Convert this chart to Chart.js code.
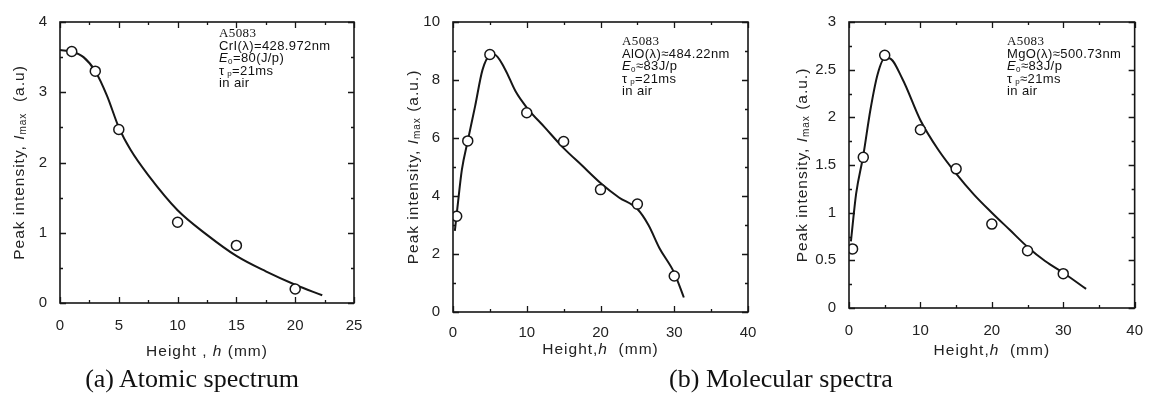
<!DOCTYPE html>
<html>
<head>
<meta charset="utf-8">
<script src="https://cdn.jsdelivr.net/npm/chart.js@4.4.1/dist/chart.umd.min.js"></script>
<style>
  body { margin: 0; background: #fff; width: 1157px; height: 396px; position: relative; overflow: hidden; }
  canvas { position: absolute; top: 0; }
  .cap { position: absolute; top: 366px; line-height: 26px; font-family: "Liberation Serif", "Times New Roman", serif; font-size: 26px; color: #111; white-space: nowrap; transform: translateX(-50%); }
</style>
</head>
<body>
<canvas id="chartA" width="390" height="365" style="left:0"></canvas>
<canvas id="chartB" width="390" height="365" style="left:390px"></canvas>
<canvas id="chartC" width="387" height="365" style="left:770px"></canvas>
<div class="cap" style="left:192px">(a) Atomic spectrum</div>
<div class="cap" style="left:781px">(b) Molecular spectra</div>
<script>
// (a) CrI atomic line
const aHeight = [1, 3, 5, 10, 15, 20];
const aPeak = [3.58, 3.3, 2.47, 1.15, 0.82, 0.2];
const aFitH = [0, 1, 2, 3, 4, 5, 6, 7.5, 10, 12.5, 15, 17.5, 20, 22.3];
const aFitI = [3.6, 3.58, 3.5, 3.3, 2.95, 2.5, 2.18, 1.82, 1.32, 0.97, 0.67, 0.45, 0.26, 0.11];

// (b) AlO band
const bHeight = [0.5, 2, 5, 10, 15, 20, 25, 30];
const bPeak = [3.3, 5.9, 8.88, 6.87, 5.88, 4.22, 3.72, 1.24];
const bFitH = [0.25, 0.6, 1.2, 2, 3, 4, 5, 5.6, 7, 8.5, 10, 12.5, 15, 17.5, 20, 22.5, 25, 26.5, 28, 30, 31.3];
const bFitI = [2.8, 3.6, 4.9, 5.9, 7.1, 8.35, 8.85, 8.88, 8.4, 7.6, 7.05, 6.35, 5.65, 5.05, 4.45, 3.95, 3.55, 3.0, 2.2, 1.35, 0.5];

// (c) MgO band
const cHeight = [0.5, 2, 5, 10, 15, 20, 25, 30];
const cPeak = [0.62, 1.58, 2.65, 1.87, 1.46, 0.88, 0.6, 0.36];
const cFitH = [0.27, 1, 2, 3, 4, 5, 5.6, 7.5, 10, 12.5, 15, 17.5, 20, 22.5, 25, 27.5, 30, 33.2];
const cFitI = [0.7, 1.2, 1.6, 2.08, 2.45, 2.62, 2.62, 2.4, 1.97, 1.66, 1.41, 1.19, 1.0, 0.82, 0.64, 0.49, 0.37, 0.2];

// in-plot notes, one line per entry: [text, style] pieces
const aNotes = [
  [["A5083", "serif"]],
  [["CrI(λ)=428.972nm", ""]],
  [["E", "i"], ["0", "sub"], ["=80(J/p)", ""]],
  [["τ", ""], [" p", "sub"], ["=21ms", ""]],
  [["in air", ""]]
];
const bNotes = [
  [["A5083", "serif"]],
  [["AlO(λ)≈484.22nm", ""]],
  [["E", "i"], ["0", "sub"], ["≈83J/p", ""]],
  [["τ", ""], [" p", "sub"], ["=21ms", ""]],
  [["in air", ""]]
];
const cNotes = [
  [["A5083", "serif"]],
  [["MgO(λ)≈500.73nm", ""]],
  [["E", "i"], ["0", "sub"], ["≈83J/p", ""]],
  [["τ", ""], [" p", "sub"], ["≈21ms", ""]],
  [["in air", ""]]
];

const sans = '"Liberation Sans", Arial, sans-serif';
const ink = '#161616';

function pieceFont(style, size) {
  if (style === 'sub') return `${Math.round(size * 0.62)}px ${sans}`;
  if (style === 'i') return `italic ${size}px ${sans}`;
  if (style === 'serif') return `${size}px "Liberation Serif", serif`;
  return `${size}px ${sans}`;
}

function drawRich(ctx, pieces, x, y, size, centre, spacing) {
  ctx.letterSpacing = spacing + 'px';
  let w = 0;
  pieces.forEach(([t, s]) => { ctx.font = pieceFont(s, size); w += ctx.measureText(t).width; });
  let cx = centre ? x - w / 2 : x;
  pieces.forEach(([t, s]) => {
    ctx.font = pieceFont(s, size);
    ctx.fillText(t, cx, s === 'sub' ? y + size * 0.2 : y);
    cx += ctx.measureText(t).width;
  });
  ctx.letterSpacing = '0px';
}

const extras = {
  id: 'extras',
  afterDraw(chart, args, o) {
    const { ctx, chartArea: a, scales: { x, y } } = chart;
    ctx.save();
    ctx.strokeStyle = ink;
    ctx.lineWidth = 1.6;
    ctx.strokeRect(a.left, a.top, a.right - a.left, a.bottom - a.top);

    // inward ticks on all four sides
    ctx.lineWidth = 1.3;
    const isMajor = (v, step) => Math.abs(v / step - Math.round(v / step)) < 1e-6;
    for (let v = x.min; v <= x.max + 1e-9; v += o.xMinor) {
      const px = Math.round(x.getPixelForValue(v)) + 0.5;
      const len = isMajor(v, o.xMajor) ? 6 : 3;
      ctx.beginPath();
      ctx.moveTo(px, a.bottom); ctx.lineTo(px, a.bottom - len);
      ctx.moveTo(px, a.top); ctx.lineTo(px, a.top + len);
      ctx.stroke();
    }
    for (let v = y.min; v <= y.max + 1e-9; v += o.yMinor) {
      const py = Math.round(y.getPixelForValue(v)) + 0.5;
      const len = isMajor(v, o.yMajor) ? 6 : 3;
      ctx.beginPath();
      ctx.moveTo(a.left, py); ctx.lineTo(a.left + len, py);
      ctx.moveTo(a.right, py); ctx.lineTo(a.right - len, py);
      ctx.stroke();
    }

    // axis titles
    ctx.fillStyle = '#222';
    ctx.textBaseline = 'middle';
    drawRich(ctx, o.xTitle, (a.left + a.right) / 2, o.xTitleY, 15.5, true, 1);
    ctx.save();
    ctx.translate(a.left - o.yTitleGap, (a.top + a.bottom) / 2);
    ctx.rotate(-Math.PI / 2);
    drawRich(ctx, o.yTitle, 0, 0, 15.5, true, 1);
    ctx.restore();

    // notes
    ctx.fillStyle = '#111';
    o.notes.forEach((line, i) => drawRich(ctx, line, o.noteX, o.noteY + i * 12.4, 13, false, 0.4));
    ctx.restore();
  }
};

function pairs(xs, ys) { return xs.map((v, i) => ({ x: v, y: ys[i] })); }

function makeChart(id, c) {
  return new Chart(id, {
    type: 'scatter',
    data: {
      datasets: [
        { data: pairs(c.h, c.i), showLine: false, pointRadius: 5, pointBorderWidth: 1.5,
          pointBackgroundColor: '#fff', pointBorderColor: ink },
        { data: pairs(c.fitH, c.fitI), showLine: true, borderColor: ink, borderWidth: 2,
          pointRadius: 0, cubicInterpolationMode: 'monotone', fill: false }
      ]
    },
    options: {
      responsive: false,
      animation: false,
      layout: { padding: c.pad },
      plugins: {
        legend: { display: false },
        tooltip: { enabled: false },
        extras: c.extras
      },
      scales: {
        x: {
          type: 'linear', min: 0, max: c.xMax,
          ticks: { stepSize: c.xStep, padding: c.xPad, color: '#222', font: { family: sans, size: 15 }, maxRotation: 0, autoSkip: false },
          grid: { display: false, drawTicks: false }, border: { display: false },
          afterFit: s => { s.height = 40; }
        },
        y: {
          type: 'linear', min: 0, max: c.yMax,
          ticks: { stepSize: c.yStep, padding: 13, color: '#222', font: { family: sans, size: 15 }, callback: v => String(v) },
          grid: { display: false, drawTicks: false }, border: { display: false },
          afterFit: s => { s.width = c.pad.left0; }
        }
      }
    },
    plugins: [extras]
  });
}

makeChart('chartA', {
  h: aHeight, i: aPeak, fitH: aFitH, fitI: aFitI,
  xMax: 25, xStep: 5, yMax: 4, yStep: 1, xPad: 14,
  pad: { left: 0, top: 14, right: 36, bottom: 22, left0: 60 },
  extras: { xMinor: 2.5, xMajor: 5, yMinor: 0.5, yMajor: 1,
    xTitle: [["Height , ", ""], ["h", "i"], [" (mm)", ""]], xTitleY: 352,
    yTitle: [["Peak intensity, ", ""], ["I", "i"], ["max", "sub"], ["  (a.u)", ""]], yTitleGap: 40,
    notes: aNotes, noteX: 219, noteY: 34 }
});

makeChart('chartB', {
  h: bHeight, i: bPeak, fitH: bFitH, fitI: bFitI,
  xMax: 40, xStep: 10, yMax: 10, yStep: 2, xPad: 12,
  pad: { left: 0, top: 18, right: 32, bottom: 13, left0: 63 },
  extras: { xMinor: 5, xMajor: 10, yMinor: 1, yMajor: 2,
    xTitle: [["Height,", ""], ["h", "i"], ["  (mm)", ""]], xTitleY: 350,
    yTitle: [["Peak intensity, ", ""], ["I", "i"], ["max", "sub"], [" (a.u.)", ""]], yTitleGap: 39,
    notes: bNotes, noteX: 232, noteY: 42 }
});

makeChart('chartC', {
  h: cHeight, i: cPeak, fitH: cFitH, fitI: cFitI,
  xMax: 40, xStep: 10, yMax: 3, yStep: 0.5, xPad: 14,
  pad: { left: 0, top: 15, right: 15, bottom: 17, left0: 79 },
  extras: { xMinor: 5, xMajor: 10, yMinor: 0.25, yMajor: 0.5,
    xTitle: [["Height,", ""], ["h", "i"], ["  (mm)", ""]], xTitleY: 351,
    yTitle: [["Peak intensity, ", ""], ["I", "i"], ["max", "sub"], [" (a.u.)", ""]], yTitleGap: 46,
    notes: cNotes, noteX: 237, noteY: 42 }
});
</script>
</body>
</html>
